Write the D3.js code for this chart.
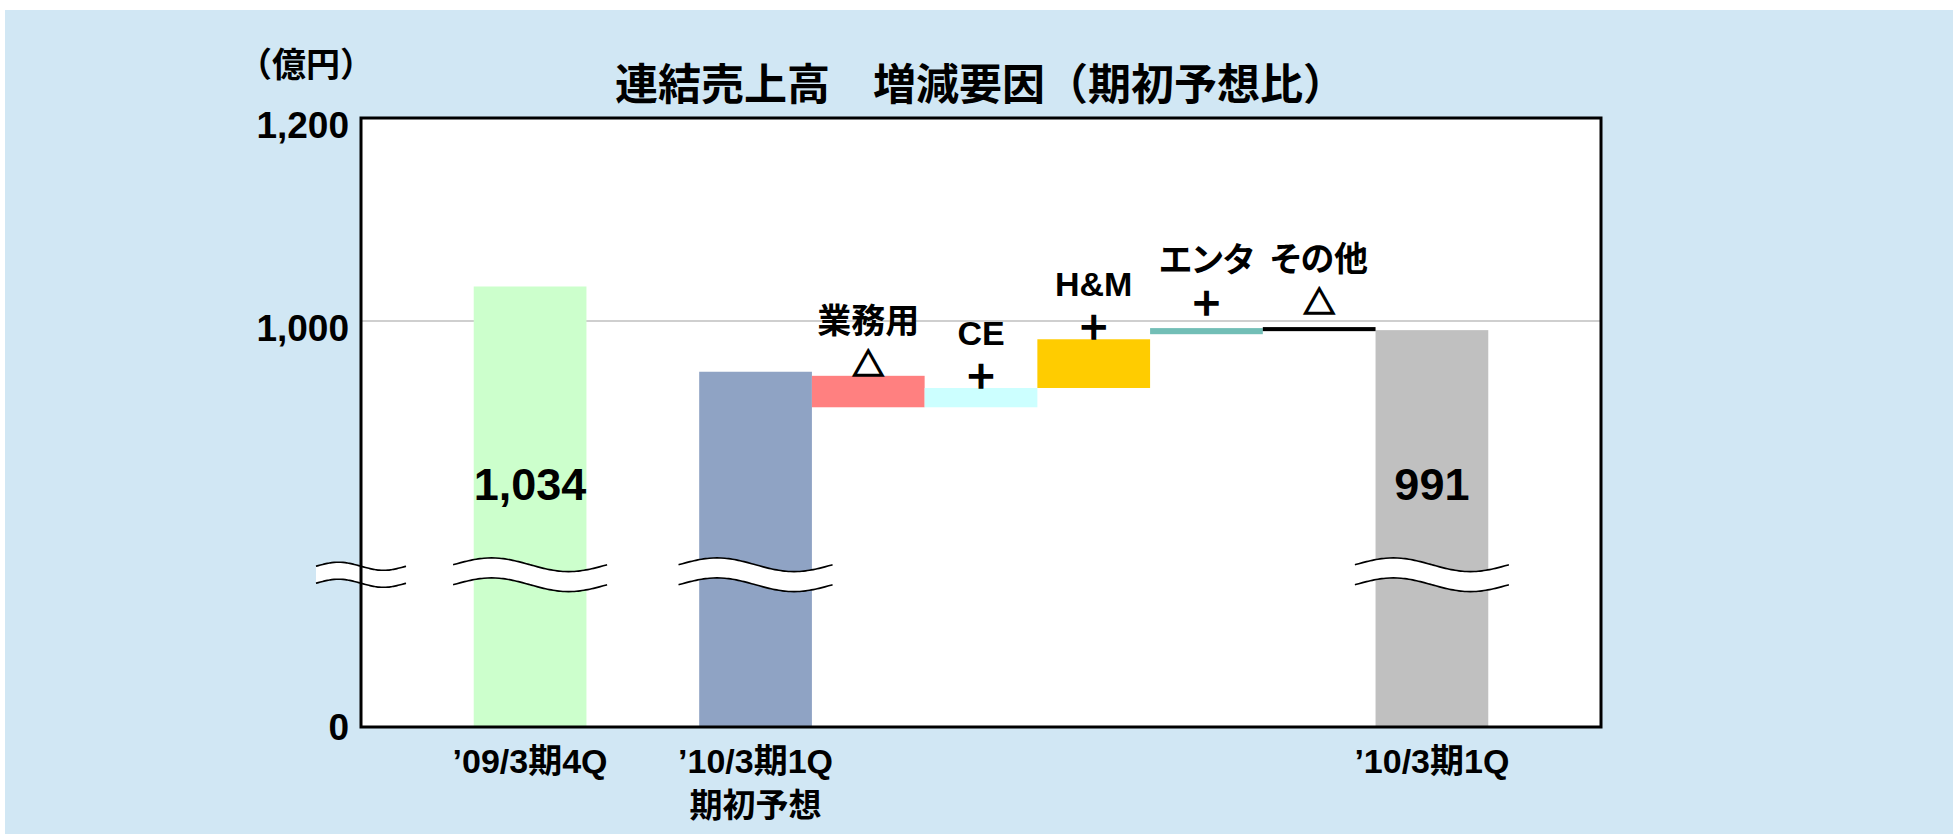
<!DOCTYPE html>
<html>
<head>
<meta charset="utf-8">
<script src="https://cdn.jsdelivr.net/npm/d3@7"></script>
<style>
  html, body { margin: 0; padding: 0; background: #fff; }
  svg text { font-family: "Liberation Sans", "Noto Sans CJK JP", sans-serif; font-weight: bold; fill: #000; }
</style>
</head>
<body>
<svg id="chart" width="1953" height="834"></svg>
<script>
// totals (full bars)
const totalIds = ['prev', 'plan', 'actual'];
const totalLabels = [['’09/3期4Q'], ['’10/3期1Q', '期初予想'], ['’10/3期1Q']];
const totalValues = [1034, 950, 991];
const totalShown = [true, false, true];

// factors (floating bars)
const stepIds = ['biz', 'ce', 'hm', 'ent', 'other'];
const stepNames = ['業務用', 'CE', 'H&M', 'エンタ', 'その他'];
const stepSigns = ['△', '＋', '＋', '＋', '△'];
const stepFrom = [946, 915, 934, 987, 994];
const stepTo = [915, 934, 982, 993, 990];

// y axis (bottom is a broken axis, labelled 0)
const yTicks = [600, 1000, 1200];
const yTickLabels = ['0', '1,000', '1,200'];
const gridValues = [1000];
const breakAt = 750;

const slots = ['pad0', 'prev', 'gap', 'plan', 'biz', 'ce', 'hm', 'ent', 'other', 'actual', 'pad1'];

const totalColors = ['#CCFFCC', '#8FA3C4', '#C0C0C0'];
const stepColors = ['#FF8080', '#CCFFFF', '#FFCC00', '#72BEB6', '#000000'];

const W = 1953, H = 834;
const plot = { left: 361, top: 118, right: 1601, bottom: 727 };

const svg = d3.select('#chart');

// background
svg.append('rect')
  .attr('x', 5).attr('y', 10)
  .attr('width', W - 5).attr('height', H - 10)
  .attr('fill', '#D1E7F4');

const x = d3.scaleBand()
  .domain(slots)
  .range([plot.left, plot.right])
  .padding(0);

const y = d3.scaleLinear()
  .domain([600, 1200])
  .range([plot.bottom, plot.top]);

// plot area
svg.append('rect')
  .attr('x', plot.left).attr('y', plot.top)
  .attr('width', plot.right - plot.left).attr('height', plot.bottom - plot.top)
  .attr('fill', '#fff');

svg.append('g').selectAll('line')
  .data(gridValues)
  .join('line')
  .attr('x1', plot.left).attr('x2', plot.right)
  .attr('y1', d => y(d)).attr('y2', d => y(d))
  .attr('stroke', '#A0A0A0')
  .attr('stroke-width', 1.2);

// total bars
const totals = totalIds.map((id, i) => ({ id, value: totalValues[i], label: totalLabels[i], shown: totalShown[i], color: totalColors[i] }));

svg.append('g').selectAll('rect')
  .data(totals)
  .join('rect')
  .attr('x', d => x(d.id))
  .attr('width', x.bandwidth())
  .attr('y', d => y(d.value))
  .attr('height', d => y(600) - y(d.value))
  .attr('fill', d => d.color);

// step bars
const steps = stepIds.map((id, i) => ({ id, name: stepNames[i], sign: stepSigns[i], from: stepFrom[i], to: stepTo[i], color: stepColors[i] }));

svg.append('g').selectAll('rect')
  .data(steps)
  .join('rect')
  .attr('x', d => x(d.id))
  .attr('width', x.bandwidth())
  .attr('y', d => y(Math.max(d.from, d.to)))
  .attr('height', d => Math.abs(y(d.from) - y(d.to)))
  .attr('fill', d => d.color);

// break marks
const wave = (x0, w, yc, a) => d3.range(0, 41).map(i => {
  const t = i / 40;
  return [x0 + w * t, yc - a * Math.sin(2 * Math.PI * t)];
});
const line = d3.line().curve(d3.curveBasis);

const breaks = [{ cx: plot.left, w: 90, gap: 17 }]
  .concat(totals.map(d => ({ cx: x(d.id) + x.bandwidth() / 2, w: 154, gap: 20 })));

const breakG = svg.append('g').selectAll('g')
  .data(breaks)
  .join('g');

breakG.append('path')
  .attr('d', d => {
    const yc = y(breakAt);
    const top = wave(d.cx - d.w / 2, d.w, yc - d.gap / 2, d.w * 0.045);
    const bot = wave(d.cx - d.w / 2, d.w, yc + d.gap / 2, d.w * 0.045).reverse();
    return line(top.concat(bot)) + 'Z';
  })
  .attr('fill', '#fff');

breakG.selectAll('.wl')
  .data(d => [-1, 1].map(s => ({ ...d, s })))
  .join('path')
  .attr('class', 'wl')
  .attr('d', d => line(wave(d.cx - d.w / 2, d.w, y(breakAt) + d.s * d.gap / 2, d.w * 0.045)))
  .attr('fill', 'none')
  .attr('stroke', '#000')
  .attr('stroke-width', 1.6);

// frame
svg.append('rect')
  .attr('x', plot.left).attr('y', plot.top)
  .attr('width', plot.right - plot.left).attr('height', plot.bottom - plot.top)
  .attr('fill', 'none')
  .attr('stroke', '#000')
  .attr('stroke-width', 3);

// y axis
const yAxis = svg.append('g')
  .attr('transform', `translate(${plot.left},0)`)
  .call(d3.axisLeft(y).tickValues(yTicks).tickFormat((d, i) => yTickLabels[i]).tickSize(0).tickPadding(12));
yAxis.select('.domain').remove();
yAxis.selectAll('text')
  .attr('dy', '0.38em')
  .attr('transform', d => `translate(0,${d === 600 ? -2 : 5})`)
  .style('font-size', '37px')
  .attr('fill', '#000');

svg.append('text')
  .attr('x', 306).attr('y', 62)
  .attr('text-anchor', 'middle')
  .attr('dominant-baseline', 'central')
  .style('font-family', '"Noto Sans CJK JP", sans-serif')
  .style('font-size', '34px')
  .text('（億円）');

// title
svg.append('text')
  .attr('x', 615).attr('y', 81)
  .attr('dominant-baseline', 'central')
  .style('font-family', '"Noto Sans CJK JP", sans-serif')
  .style('font-size', '43px')
  .text('連結売上高　増減要因（期初予想比）');

// category labels under the axis
const catG = svg.append('g').selectAll('text')
  .data(totals)
  .join('text')
  .attr('text-anchor', 'middle')
  .attr('x', d => x(d.id) + x.bandwidth() / 2)
  .style('font-size', '34px');
catG.selectAll('tspan')
  .data(d => d.label.map((t, j) => ({ t, j, cx: x(d.id) + x.bandwidth() / 2 })))
  .join('tspan')
  .attr('x', d => d.cx)
  .attr('y', d => plot.bottom + 46 + d.j * 44)
  .style('font-size', d => d.j ? '33px' : '34px')
  .text(d => d.t);

// value labels on total bars
svg.append('g').selectAll('text')
  .data(totals.filter(d => d.shown))
  .join('text')
  .attr('x', d => x(d.id) + x.bandwidth() / 2)
  .attr('y', 484)
  .attr('text-anchor', 'middle')
  .attr('dominant-baseline', 'central')
  .style('font-size', '45px')
  .text(d => d3.format(',')(d.value));

// step labels: sign and name above each floating bar
const signY = d => {
  const top = y(Math.max(d.from, d.to));
  const h = Math.abs(y(d.from) - y(d.to));
  return top - (h < 10 ? 27 : 14);
};

const stepLab = svg.append('g').selectAll('g')
  .data(steps)
  .join('g')
  .attr('transform', d => `translate(${x(d.id) + x.bandwidth() / 2},0)`);

stepLab.append('text')
  .attr('y', d => signY(d))
  .attr('text-anchor', 'middle')
  .attr('dominant-baseline', 'central')
  .style('font-family', '"Noto Sans CJK JP", sans-serif')
  .style('font-size', '32px')
  .attr('stroke', '#000')
  .attr('stroke-width', 1.6)
  .text(d => d.sign);

stepLab.append('text')
  .attr('y', d => signY(d) - 41)
  .attr('text-anchor', 'middle')
  .attr('dominant-baseline', 'central')
  .style('font-size', '34px')
  .style('font-feature-settings', '"palt"')
  .text(d => d.name);
</script>
</body>
</html>
